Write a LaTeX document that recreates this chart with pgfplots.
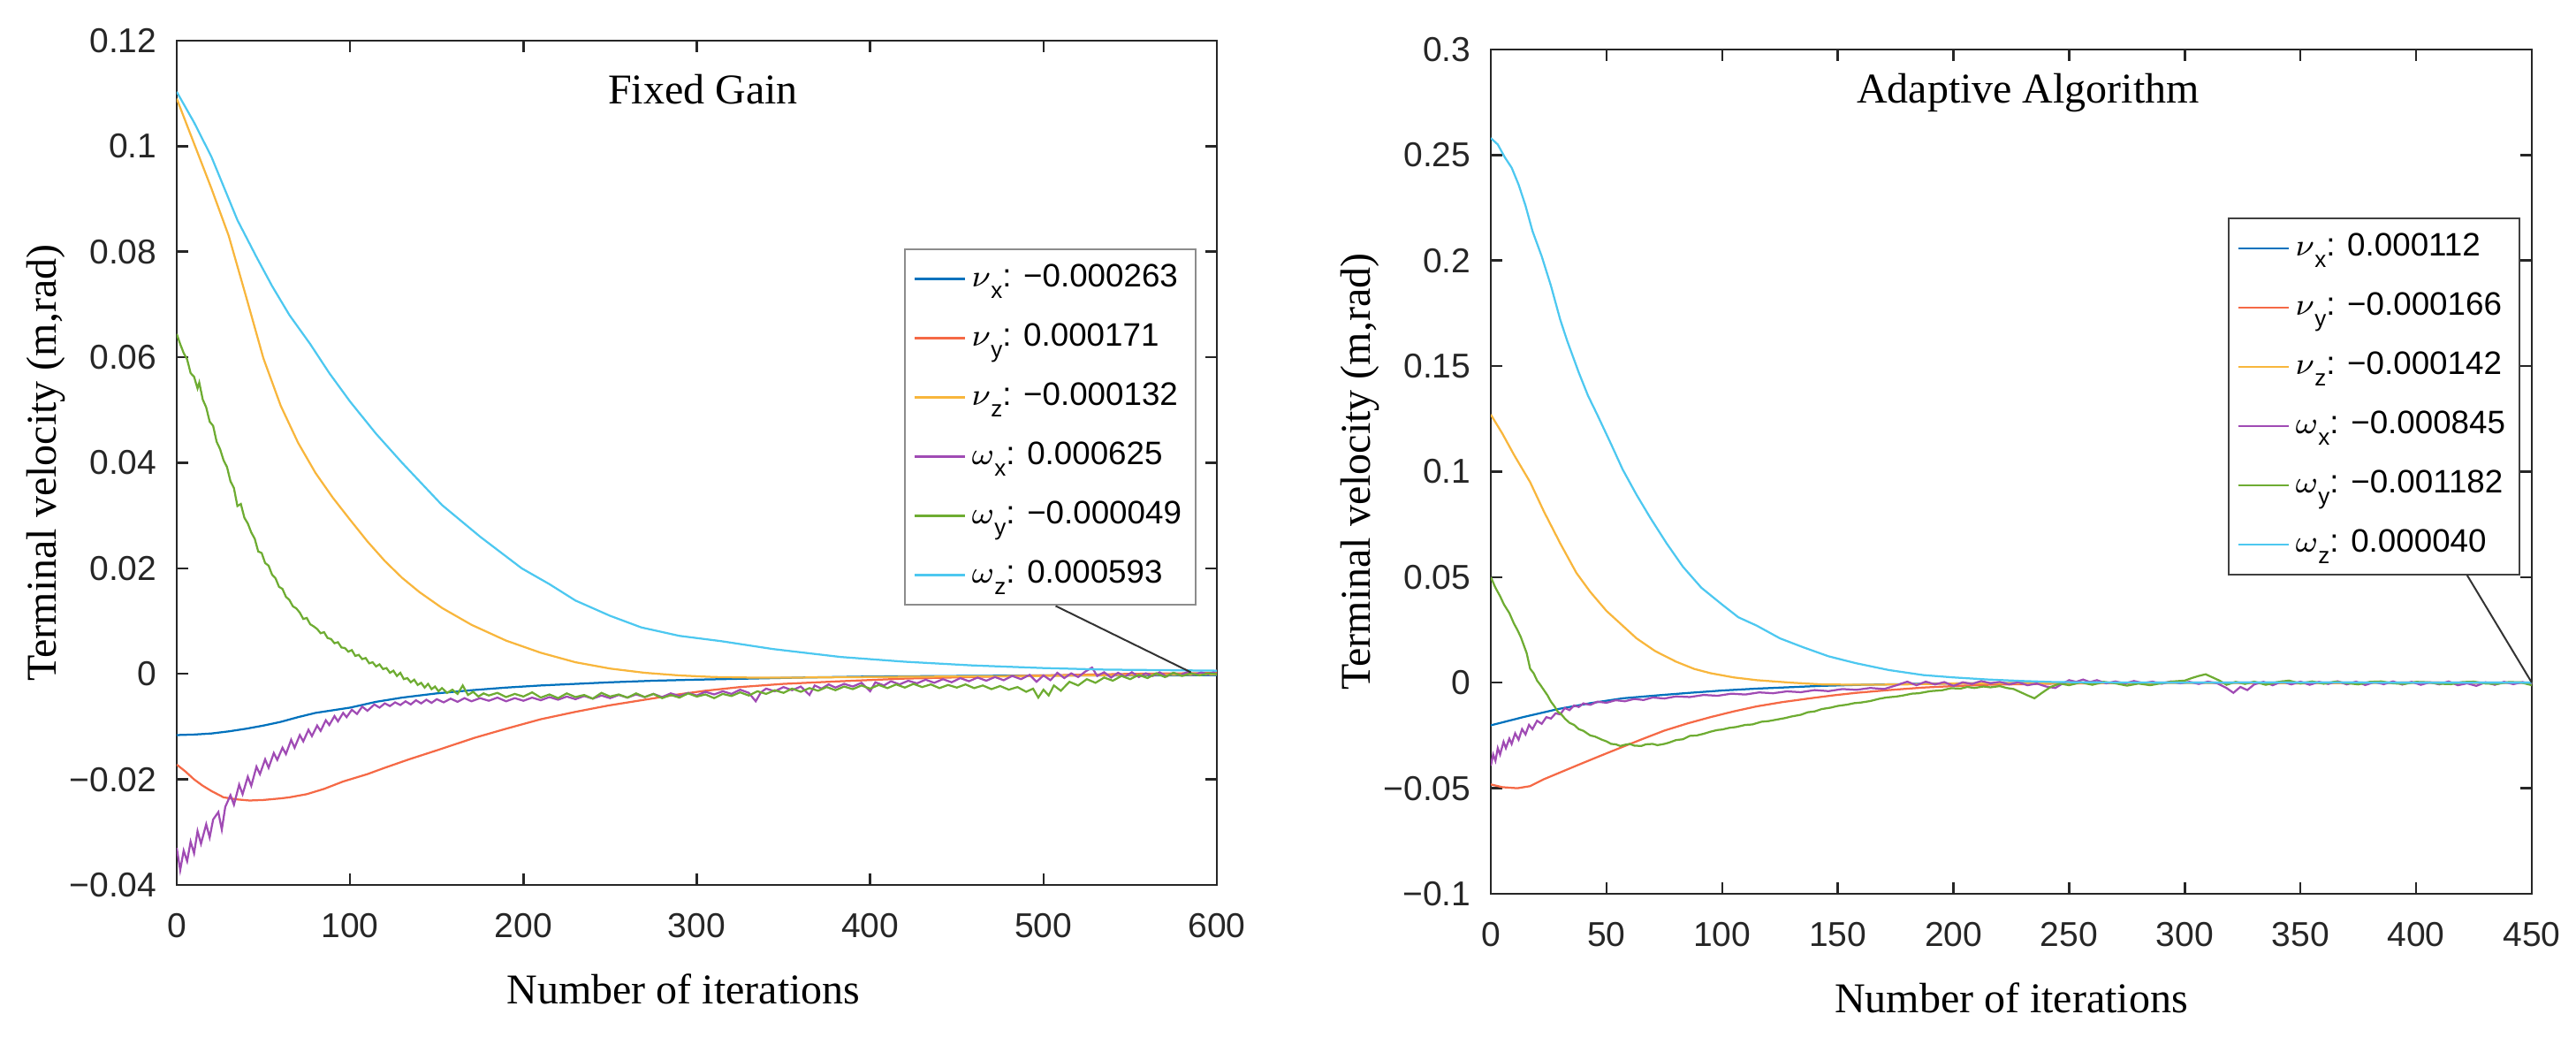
\documentclass[border=0pt]{standalone}
\usepackage{pgfplots}
\pgfplotsset{compat=1.18}
\usepackage{fontspec}
\setmainfont{Liberation Serif}
\newfontfamily\arial{Liberation Sans}
\definecolor{cnx}{RGB}{0,114,189}
\definecolor{cny}{RGB}{245,105,70}
\definecolor{cnz}{RGB}{248,182,60}
\definecolor{cwx}{RGB}{160,75,180}
\definecolor{cwy}{RGB}{110,172,50}
\definecolor{cwz}{RGB}{77,200,240}
\pgfplotsset{
  every axis title shift=0pt,
  mystyle/.style={
    scale only axis,
    anchor=south west,
    axis line style={black!85, line width=0.5pt},
    tick style={black!85, line width=0.5pt},
    major tick length=2.6pt,
    tick align=inside,
    tick pos=both,
    tick label style={font=\arial\fontsize{7.8}{9}\selectfont, text=black!85},
    xticklabel style={yshift=-3pt},
    yticklabel style={xshift=-1pt},
    label style={font=\fontsize{9.6}{11}\selectfont},
    title style={font=\fontsize{9.6}{11}\selectfont, anchor=base},
    xlabel style={at={(rel axis cs:0.5,0)}, anchor=base, yshift=-27pt},
    ylabel style={anchor=center},
    legend cell align=left,
    legend image code/.code={\draw[#1,line width=0.5pt] (0pt,0pt) -- (11.4pt,0pt);},
    legend style={font=\arial\fontsize{7.35}{9}\selectfont, anchor=north east,
      row sep=3.9pt, inner xsep=2pt, inner ysep=2pt,
      nodes={inner xsep=1.2pt, inner ysep=0.5pt, text height=6pt, text depth=2.5pt}},
    every axis plot/.append style={line width=0.45pt},
  }
}
\newcommand{\sx}[1]{\raisebox{-2.6pt}{\arial\fontsize{5.2}{6}\selectfont #1}}
\begin{document}
\begin{tikzpicture}
\useasboundingbox (0,0) rectangle (583pt,234.6pt);
% ================= LEFT =================
\begin{axis}[mystyle,
  at={(40pt,34.4pt)}, width=235.4pt, height=191pt,
  xmin=0, xmax=600, ymin=-0.04, ymax=0.12,
  xtick={0,100,200,300,400,500,600},
  xticklabels={0,100,200,300,400,500,600},
  ytick={-0.04,-0.02,0,0.02,0.04,0.06,0.08,0.1,0.12},
  yticklabels={−0.04,−0.02,0,0.02,0.04,0.06,0.08,0.1,0.12},
  title={Fixed Gain},
  title style={at={(rel axis cs:0.5,1)}, yshift=-14.3pt, xshift=1.4pt},
  xlabel={Number of iterations},
  xlabel style={xshift=-3pt},
  ylabel={Terminal velocity (m,rad)},
  ylabel style={at={(rel axis cs:-0.1257,0.5)}},
  legend style={at={(rel axis cs:0.9805,0.754)}, draw=black!45, name=legL},
]
\addplot[cnx] coordinates {(0,-0.0116)(10,-0.0115)(20,-0.0113)(30,-0.0109)(40,-0.0104)(50,-0.0098)(60,-0.0091)(70,-0.0082)(80,-0.0074)(90,-0.0069)(100,-0.0064)(115,-0.0053)(130,-0.0045)(150,-0.0037)(170,-0.0031)(190,-0.0026)(210,-0.0022)(230,-0.0019)(250,-0.0016)(275,-0.0013)(300,-0.0011)(330,-0.0009)(360,-0.0007)(400,-0.0005)(450,-0.0004)(500,-0.0003)(550,-0.0003)(600,-0.00026)};
\addlegendentry{$\nu$\sx{x}: −0.000263}
\addplot[cny] coordinates {(0,-0.0172)(5,-0.0185)(10,-0.0200)(15,-0.0212)(20,-0.0222)(27,-0.0234)(35,-0.0238)(42,-0.0240)(50,-0.0239)(60,-0.0236)(65,-0.0234)(75,-0.0228)(85,-0.0218)(96,-0.0204)(110,-0.0190)(120,-0.0178)(134,-0.0162)(150,-0.0145)(172,-0.0121)(190,-0.0104)(210,-0.0086)(230,-0.0072)(249,-0.0060)(270,-0.0049)(287,-0.0040)(305,-0.0032)(325,-0.0025)(350,-0.0019)(383,-0.0014)(420,-0.0009)(459,-0.0006)(500,-0.0003)(550,0.0000)(600,0.00017)};
\addlegendentry{$\nu$\sx{y}: 0.000171}
\addplot[cnz] coordinates {(0,0.109)(10,0.1005)(20,0.092)(30,0.083)(40,0.0715)(50,0.0598)(60,0.0508)(70,0.0438)(80,0.0381)(90,0.0334)(100,0.0292)(110,0.0251)(120,0.0214)(130,0.0182)(140,0.0155)(153,0.0125)(170,0.0093)(190,0.0063)(210,0.0040)(230,0.0022)(250,0.0010)(270,0.0002)(290,-0.0003)(310,-0.0006)(330,-0.0007)(360,-0.0007)(400,-0.0006)(450,-0.0005)(500,-0.0004)(550,-0.0002)(600,-0.00013)};
\addlegendentry{$\nu$\sx{z}: −0.000132}
\addplot[cwx] coordinates {(0,-0.0330)(2,-0.0372)(4,-0.0335)(6,-0.0355)(8,-0.0318)(10,-0.0340)(12,-0.0298)(14,-0.0322)(17,-0.0285)(19,-0.0310)(21,-0.0276)(24,-0.0262)(26,-0.0295)(28,-0.0252)(31,-0.0230)(33,-0.0248)(36,-0.0210)(38,-0.0228)(41,-0.0195)(43,-0.0212)(46,-0.0176)(48,-0.0190)(51,-0.0162)(53,-0.0178)(56,-0.0150)(58,-0.0163)(61,-0.0140)(63,-0.0152)(66,-0.0125)(68,-0.0140)(71,-0.0116)(73,-0.0128)(76,-0.0106)(78,-0.0118)(81,-0.0098)(83,-0.0108)(86,-0.0088)(88,-0.0097)(91,-0.0080)(93,-0.0090)(96,-0.0074)(98,-0.0082)(101,-0.0068)(104,-0.0076)(107,-0.0062)(110,-0.0070)(114,-0.0058)(117,-0.0064)(120,-0.0056)(123,-0.0061)(126,-0.0054)(129,-0.0059)(132,-0.0052)(135,-0.0058)(138,-0.0050)(141,-0.0056)(144,-0.0049)(147,-0.0055)(150,-0.0048)(154,-0.0054)(158,-0.0047)(162,-0.0053)(166,-0.0046)(170,-0.0052)(175,-0.0046)(180,-0.0051)(185,-0.0045)(190,-0.0052)(195,-0.0046)(200,-0.0051)(205,-0.0045)(210,-0.0050)(215,-0.0044)(220,-0.0049)(225,-0.0043)(230,-0.0048)(235,-0.0042)(240,-0.0047)(245,-0.0041)(250,-0.0046)(255,-0.0040)(260,-0.0045)(265,-0.0039)(270,-0.0044)(275,-0.0038)(280,-0.0044)(285,-0.0037)(290,-0.0042)(295,-0.0036)(300,-0.0041)(305,-0.0034)(310,-0.0039)(315,-0.0033)(320,-0.0038)(325,-0.0030)(330,-0.0036)(334,-0.0052)(337,-0.0035)(340,-0.0028)(345,-0.0033)(350,-0.0025)(355,-0.0031)(360,-0.0024)(365,-0.0040)(368,-0.0022)(372,-0.0028)(376,-0.0020)(380,-0.0026)(385,-0.0019)(390,-0.0024)(395,-0.0017)(400,-0.0033)(403,-0.0016)(408,-0.0022)(412,-0.0014)(417,-0.0020)(422,-0.0013)(427,-0.0018)(432,-0.0011)(437,-0.0017)(442,-0.0010)(447,-0.0016)(452,-0.0008)(457,-0.0014)(462,-0.0007)(467,-0.0013)(472,-0.0006)(477,-0.0012)(482,-0.0004)(487,-0.0010)(492,-0.0002)(496,-0.0015)(500,-0.0003)(504,-0.0012)(508,0.0002)(512,-0.0008)(516,0.0001)(520,-0.0006)(524,0.0004)(528,0.0012)(531,-0.0004)(535,0.0003)(539,-0.0007)(543,0.0002)(547,-0.0005)(551,0.0003)(555,-0.0006)(559,0.0001)(563,-0.0004)(567,0.0003)(571,-0.0005)(575,0.0002)(579,-0.0003)(583,0.0004)(587,-0.0002)(591,0.0003)(595,-0.0001)(600,0.000625)};
\addlegendentry{$\omega$\sx{x}: 0.000625}
\addplot[cwy] coordinates {(0,0.0644)(2,0.0625)(4,0.0608)(6,0.0596)(8,0.0570)(10,0.0563)(12,0.0541)(13,0.0552)(15,0.0520)(17,0.0505)(19,0.0478)(21,0.0470)(23,0.0440)(25,0.0426)(27,0.0405)(29,0.0392)(31,0.0365)(33,0.0352)(35,0.0318)(37,0.0322)(39,0.0296)(41,0.0285)(43,0.0268)(45,0.0256)(47,0.0232)(49,0.0229)(51,0.0210)(53,0.0205)(55,0.0188)(57,0.0181)(59,0.0165)(61,0.0161)(63,0.0146)(65,0.0140)(67,0.0128)(69,0.0124)(71,0.0116)(73,0.0104)(75,0.0106)(77,0.0094)(79,0.0090)(81,0.0085)(83,0.0077)(85,0.0079)(87,0.0068)(89,0.0066)(91,0.0058)(93,0.0060)(95,0.0050)(97,0.0049)(99,0.0042)(101,0.0045)(103,0.0034)(105,0.0036)(107,0.0028)(109,0.0030)(111,0.0020)(113,0.0022)(115,0.0014)(117,0.0018)(119,0.0009)(121,0.0011)(123,0.0002)(125,0.0006)(127,-0.0004)(129,0.0002)(131,-0.0010)(133,-0.0008)(135,-0.0016)(137,-0.0011)(139,-0.0021)(141,-0.0017)(143,-0.0026)(145,-0.0019)(147,-0.0029)(149,-0.0024)(151,-0.0033)(153,-0.0027)(156,-0.0036)(159,-0.0030)(162,-0.0038)(165,-0.0022)(168,-0.0040)(171,-0.0034)(174,-0.0043)(177,-0.0037)(180,-0.0041)(185,-0.0036)(190,-0.0044)(195,-0.0038)(200,-0.0043)(205,-0.0035)(210,-0.0045)(215,-0.0039)(220,-0.0046)(225,-0.0037)(230,-0.0044)(235,-0.0040)(240,-0.0047)(245,-0.0036)(250,-0.0043)(255,-0.0039)(260,-0.0045)(265,-0.0037)(270,-0.0044)(275,-0.0038)(280,-0.0046)(285,-0.0040)(290,-0.0045)(295,-0.0037)(300,-0.0043)(305,-0.0039)(310,-0.0046)(315,-0.0038)(320,-0.0042)(325,-0.0035)(330,-0.0041)(335,-0.0033)(340,-0.0038)(345,-0.0031)(350,-0.0036)(355,-0.0028)(360,-0.0034)(365,-0.0027)(370,-0.0032)(375,-0.0025)(380,-0.0031)(385,-0.0024)(390,-0.0029)(395,-0.0022)(400,-0.0028)(405,-0.0021)(410,-0.0027)(415,-0.0020)(420,-0.0026)(425,-0.0019)(430,-0.0025)(435,-0.0020)(440,-0.0027)(445,-0.0021)(450,-0.0026)(455,-0.0020)(460,-0.0027)(465,-0.0022)(470,-0.0029)(475,-0.0023)(480,-0.0030)(485,-0.0025)(490,-0.0034)(494,-0.0028)(497,-0.0045)(500,-0.0030)(503,-0.0041)(506,-0.0022)(510,-0.0032)(515,-0.0015)(520,-0.0022)(525,-0.0010)(530,-0.0017)(535,-0.0007)(540,-0.0013)(545,-0.0004)(550,-0.0010)(555,-0.0002)(560,-0.0008)(565,0.0001)(570,-0.0006)(575,0.0002)(580,-0.0004)(585,0.0001)(590,-0.0003)(595,0.0001)(600,-0.00005)};
\addlegendentry{$\omega$\sx{y}: −0.000049}
\addplot[cwz] coordinates {(0,0.1103)(10,0.1045)(20,0.098)(27,0.0924)(35,0.086)(46,0.079)(55,0.0735)(65,0.068)(77,0.0625)(88,0.057)(100,0.0516)(115,0.0455)(130,0.040)(153,0.032)(175,0.026)(199,0.020)(215,0.017)(230,0.0139)(250,0.011)(268,0.0088)(290,0.0072)(314,0.0062)(344,0.0047)(383,0.0032)(420,0.0023)(459,0.0016)(500,0.0011)(536,0.0008)(570,0.0007)(600,0.0006)};
\addlegendentry{$\omega$\sx{z}: 0.000593}
\coordinate (sL) at (axis cs:507,0);
\coordinate (pL) at (axis cs:585,0.0003);
\end{axis}
\draw[black!80, line width=0.4pt] (sL |- legL.south) -- (pL);
% ================= RIGHT =================
\begin{axis}[mystyle,
  at={(337.4pt,32.4pt)}, width=235.6pt, height=191pt,
  xmin=0, xmax=450, ymin=-0.1, ymax=0.3,
  xtick={0,50,100,150,200,250,300,350,400,450},
  xticklabels={0,50,100,150,200,250,300,350,400,450},
  ytick={-0.1,-0.05,0,0.05,0.1,0.15,0.2,0.25,0.3},
  yticklabels={−0.1,−0.05,0,0.05,0.1,0.15,0.2,0.25,0.3},
  title={Adaptive Algorithm},
  title style={at={(rel axis cs:0.5,1)}, yshift=-12.2pt, xshift=3.8pt},
  xlabel={Number of iterations},
  ylabel={Terminal velocity (m,rad)},
  ylabel style={at={(rel axis cs:-0.1257,0.5)}},
  legend style={at={(rel axis cs:0.989,0.801)}, draw=black!75, name=legR},
]
\addplot[cnx] coordinates {(0,-0.0202)(14,-0.0163)(29,-0.0125)(43,-0.0097)(57,-0.0074)(72,-0.0060)(86,-0.0048)(100,-0.0037)(115,-0.0028)(130,-0.0021)(143,-0.0015)(160,-0.0010)(187,-0.0005)(220,-0.0002)(260,0.0000)(320,0.0001)(450,0.000112)};
\addlegendentry{$\nu$\sx{x}: 0.000112}
\addplot[cny] coordinates {(0,-0.0482)(5,-0.0495)(11.5,-0.0500)(17,-0.0490)(23,-0.0457)(30,-0.0425)(37,-0.0393)(47,-0.0348)(57,-0.0304)(66,-0.0265)(75,-0.0227)(85,-0.0193)(95,-0.0163)(105,-0.0136)(115,-0.0112)(126,-0.0092)(138,-0.0074)(148,-0.0060)(158,-0.0048)(172,-0.0035)(187,-0.0023)(200,-0.0016)(215,-0.0010)(240,-0.0005)(270,-0.0002)(300,0.0000)(350,-0.0003)(400,0.0001)(450,-0.000166)};
\addlegendentry{$\nu$\sx{y}: −0.000166}
\addplot[cnz] coordinates {(0,0.127)(5,0.118)(10,0.108)(17,0.095)(23,0.081)(30,0.066)(37,0.052)(43,0.043)(50,0.034)(57,0.027)(63,0.021)(71,0.015)(80,0.010)(88,0.0065)(95,0.0045)(105,0.0025)(115,0.0012)(130,0.0)(143,-0.0008)(160,-0.0010)(180,-0.0008)(200,-0.0004)(250,-0.0001)(300,-0.0001)(450,-0.000142)};
\addlegendentry{$\nu$\sx{z}: −0.000142}
\addplot[cwx] coordinates {(0,-0.0393)(1,-0.0340)(2,-0.0370)(3,-0.0310)(4,-0.0340)(5.5,-0.0280)(6.5,-0.0310)(8,-0.0265)(9,-0.0290)(10.5,-0.0240)(12,-0.0270)(13.5,-0.0220)(15,-0.0245)(16.5,-0.0200)(18,-0.0220)(20,-0.0180)(22,-0.0195)(24,-0.0163)(26,-0.0170)(28,-0.0145)(30,-0.0150)(32,-0.0120)(34,-0.0130)(36,-0.0108)(38,-0.0115)(40,-0.0098)(43,-0.0105)(46,-0.0090)(50,-0.0095)(54,-0.0083)(58,-0.0088)(62,-0.0077)(66,-0.0082)(70,-0.0070)(75,-0.0075)(80,-0.0065)(86,-0.0068)(92,-0.0058)(98,-0.0062)(104,-0.0052)(110,-0.0056)(116,-0.0046)(122,-0.0050)(128,-0.0041)(134,-0.0045)(140,-0.0035)(146,-0.0040)(152,-0.0030)(158,-0.0034)(164,-0.0025)(170,-0.0030)(176,-0.0010)(180,0.0005)(184,-0.0012)(188,0.0005)(192,-0.0008)(196,0.0003)(200,-0.0015)(204,0.0002)(208,-0.0006)(212,0.0008)(216,-0.0003)(220,0.0004)(224,-0.0008)(228,0.0002)(232,-0.0012)(236,-0.0004)(240,-0.0018)(244,-0.0025)(247,-0.0005)(250,0.0012)(253,0.0004)(256,0.0015)(259,0.0003)(262,0.0012)(266,-0.0003)(270,0.0006)(274,-0.0004)(278,0.0008)(282,-0.0002)(286,0.0005)(290,-0.0005)(294,0.0006)(298,-0.0003)(302,0.0004)(306,-0.0006)(310,0.0005)(314,-0.0003)(318,-0.0025)(321,-0.0048)(324,-0.0020)(327,-0.0035)(330,-0.0008)(334,0.0004)(338,-0.0012)(342,0.0006)(346,-0.0008)(350,0.0005)(354,-0.0010)(358,0.0004)(362,-0.0006)(366,0.0007)(370,-0.0008)(374,0.0005)(378,-0.0011)(382,0.0003)(386,-0.0007)(390,0.0006)(394,-0.0009)(398,0.0004)(402,-0.0010)(406,0.0002)(410,-0.0008)(414,0.0006)(418,-0.0012)(422,-0.0003)(426,-0.0015)(430,0.0002)(434,-0.0010)(438,0.0004)(442,-0.0007)(446,0.0003)(450,-0.000845)};
\addlegendentry{$\omega$\sx{x}: −0.000845}
\addplot[cwy] coordinates {(0,0.0500)(2,0.0450)(4,0.0410)(5.7,0.0370)(8,0.0330)(10,0.0280)(11.5,0.0250)(13,0.0215)(14,0.0185)(15.5,0.0140)(17,0.0066)(18.5,0.0045)(20,0.0010)(21.5,-0.0012)(23,-0.0036)(24.5,-0.0060)(26,-0.0090)(27.5,-0.0112)(29,-0.0138)(30.5,-0.0150)(32,-0.0170)(34,-0.0190)(36,-0.0200)(38,-0.0220)(40,-0.0228)(43,-0.0250)(45,-0.0255)(48,-0.0270)(50,-0.0278)(52,-0.0290)(54,-0.0292)(56,-0.0300)(58,-0.0294)(60,-0.0290)(62,-0.0298)(65,-0.0300)(67,-0.0292)(70,-0.0290)(72,-0.0296)(75,-0.0290)(77,-0.0284)(80,-0.0272)(83,-0.0268)(86,-0.0252)(89,-0.0250)(92,-0.0242)(95,-0.0232)(98,-0.0224)(100,-0.0222)(103,-0.0214)(106,-0.0210)(110,-0.0200)(113,-0.0198)(117,-0.0185)(120,-0.0182)(123,-0.0176)(127,-0.0168)(130,-0.0160)(134,-0.0152)(137,-0.0140)(140,-0.0136)(143,-0.0125)(147,-0.0118)(150,-0.0110)(154,-0.0104)(157,-0.0097)(160,-0.0094)(164,-0.0087)(168,-0.0076)(171,-0.0070)(175,-0.0066)(178,-0.0061)(182,-0.0052)(185,-0.0050)(190,-0.0040)(195,-0.0036)(199,-0.0026)(203,-0.0028)(206,-0.0020)(209,-0.0025)(213,-0.0018)(216,-0.0022)(220,-0.0016)(223,-0.0025)(226,-0.0030)(229,-0.0045)(232,-0.0060)(235,-0.0074)(238,-0.0050)(242,-0.0020)(246,-0.0004)(250,-0.0012)(255,0.0002)(260,-0.0010)(265,0.0004)(270,-0.0003)(275,-0.0014)(280,-0.0004)(285,-0.0012)(290,-0.0002)(295,0.0006)(300,0.0010)(303,0.0022)(306,0.0032)(309,0.0040)(312,0.0025)(315,0.0010)(318,-0.0010)(322,0.0004)(326,-0.0006)(330,0.0005)(335,-0.0010)(340,0.0003)(345,0.0010)(350,-0.0004)(355,0.0006)(360,-0.0005)(365,0.0005)(370,-0.0002)(375,-0.0008)(380,0.0004)(385,0.0006)(390,-0.0003)(395,-0.0006)(400,0.0004)(405,0.0002)(410,-0.0005)(415,-0.0007)(420,0.0003)(425,0.0005)(430,-0.0004)(435,-0.0006)(440,0.0003)(445,0.0002)(450,-0.001182)};
\addlegendentry{$\omega$\sx{y}: −0.001182}
\addplot[cwz] coordinates {(0,0.258)(3,0.255)(6,0.249)(9,0.244)(12,0.236)(15,0.226)(18,0.214)(22,0.202)(26,0.188)(30,0.172)(33,0.162)(38,0.147)(42,0.136)(46,0.127)(52,0.113)(57,0.101)(63,0.089)(69,0.078)(76,0.066)(83,0.055)(91,0.045)(100,0.037)(107,0.031)(115,0.027)(125,0.021)(135,0.0168)(146,0.0125)(158,0.0092)(172,0.0060)(187,0.0036)(200,0.0025)(215,0.0015)(230,0.0008)(244,0.0003)(270,0.0001)(300,0.0000)(350,0.0001)(400,0.0000)(450,0.00004)};
\addlegendentry{$\omega$\sx{z}: 0.000040}
\coordinate (sR) at (axis cs:422,0);
\coordinate (pR) at (axis cs:450,0);
\end{axis}
\draw[black!80, line width=0.4pt] (sR |- legR.south) -- (pR);
\end{tikzpicture}
\end{document}
